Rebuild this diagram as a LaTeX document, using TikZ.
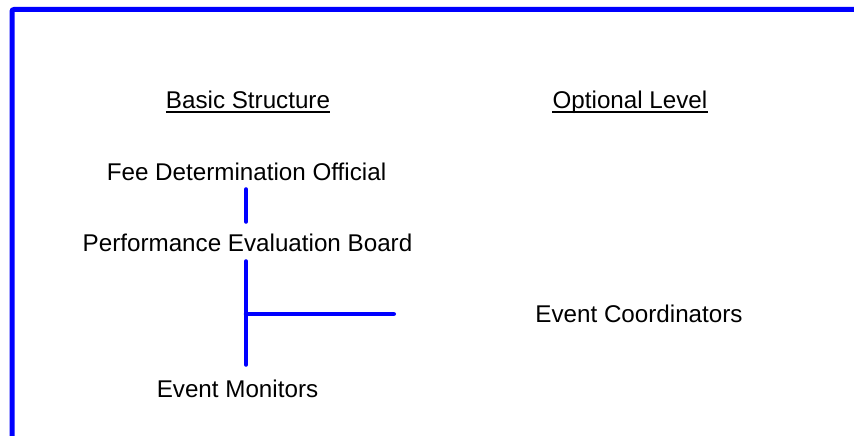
\documentclass[tikz,border=0pt]{standalone}
\usepackage{fontspec}
\setmainfont{Liberation Sans}
\usepackage{xcolor}
\definecolor{orgblue}{RGB}{0,0,255}

\begin{document}
\begin{tikzpicture}[x=1pt,y=-1pt,
  lbl/.style={anchor=base,inner sep=0pt,text height=18pt,text depth=5pt,font=\fontsize{24.2}{29}\selectfont},
  link/.style={orgblue,line width=4.5pt,line cap=round},
  uline/.style={black,line width=2pt}]
\useasboundingbox (0,0) rectangle (854,436);
\draw[orgblue,line width=5pt,rounded corners=2pt] (860,9.5) -- (12,9.5) -- (12,440);
% headings
\node[lbl] (basic) at (248,108) {Basic Structure};
\node[lbl] (optional) at (630,108) {Optional Level};
\draw[uline] ([yshift=-4pt]basic.base west) -- ([yshift=-4pt]basic.base east);
\draw[uline] ([yshift=-4pt]optional.base west) -- ([yshift=-4pt]optional.base east);
% boxes
\node[lbl] (fdo) at (246.5,180) {Fee Determination Official};
\node[lbl] (peb) at (247.5,251) {Performance Evaluation Board};
\node[lbl] (coord) at (639,322) {Event Coordinators};
\node[lbl] (monitors) at (237.5,397) {Event Monitors};
\coordinate (junc) at (246,314);
\coordinate (branch) at (393.75,314);
% connectors
\draw[link,shorten <=4.25pt,shorten >=11.25pt] (fdo.south -| junc) -- (peb.north -| junc);
\draw[link,shorten <=5.25pt,shorten >=14.25pt] (peb.south -| junc) -- (monitors.north -| junc);
\draw[link] (junc) -- (branch);
\end{tikzpicture}
\end{document}
